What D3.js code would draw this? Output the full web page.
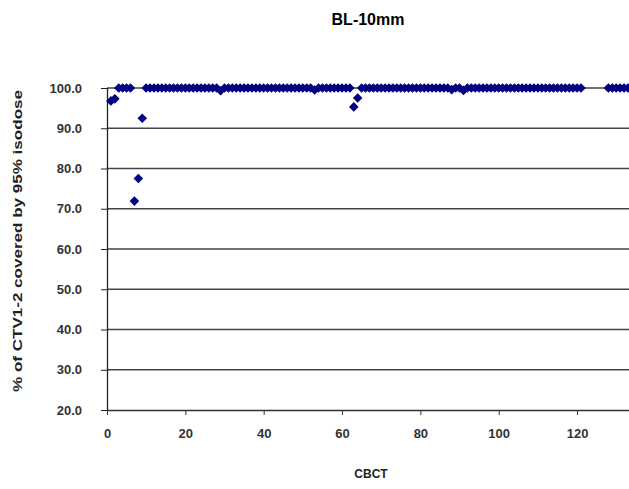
<!DOCTYPE html>
<html>
<head>
<meta charset="utf-8">
<script src="https://cdn.jsdelivr.net/npm/d3@7"></script>
<style>
  body { margin: 0; background: #fff; }
  svg { display: block; font-family: "Liberation Sans", Arial, sans-serif; }
</style>
</head>
<body>
<div id="chart"></div>
<script>
// % of CTV1-2 covered by 95% isodose, one value per CBCT (index + 1); null = no scan
const coverage = [
  96.8, 97.3, 100, 100, 100, 100, 71.9, 77.5, 92.5, 100,
  100, 100, 100, 100, 100, 100, 100, 100, 100, 100,
  100, 100, 100, 100, 100, 100, 100, 100, 99.3, 100,
  100, 100, 100, 100, 100, 100, 100, 100, 100, 100,
  100, 100, 100, 100, 100, 100, 100, 100, 100, 100,
  100, 100, 99.5, 100, 100, 100, 100, 100, 100, 100,
  100, 100, 95.3, 97.5, 100, 100, 100, 100, 100, 100,
  100, 100, 100, 100, 100, 100, 100, 100, 100, 100,
  100, 100, 100, 100, 100, 100, 100, 99.6, 100, 100,
  99.4, 100, 100, 100, 100, 100, 100, 100, 100, 100,
  100, 100, 100, 100, 100, 100, 100, 100, 100, 100,
  100, 100, 100, 100, 100, 100, 100, 100, 100, 100,
  100, null, null, null, null, null, null, 100, 100, 100,
  100, 100, 100
];
const xTicks = [0, 20, 40, 60, 80, 100, 120];
const yTicks = [20, 30, 40, 50, 60, 70, 80, 90, 100];

const width = 629, height = 489;
const margin = { top: 88, left: 107, bottom: 79 };

const points = coverage
  .map((v, i) => ({ cbct: i + 1, value: v }))
  .filter(d => d.value !== null);

const svg = d3.select("#chart").append("svg")
  .attr("width", width)
  .attr("height", height);

// x axis runs past the right edge (chart is cropped there)
const x = d3.scaleLinear()
  .domain([0, 140])
  .range([margin.left, margin.left + 140 * 3.917]);

const y = d3.scaleLinear()
  .domain([20, 100])
  .range([height - margin.bottom, margin.top]);

// gridlines
svg.append("g")
  .selectAll("line")
  .data(yTicks.filter(t => t > 20))
  .enter().append("line")
  .attr("x1", margin.left)
  .attr("x2", width)
  .attr("y1", d => y(d))
  .attr("y2", d => y(d))
  .attr("stroke", "#444")
  .attr("stroke-width", 1.4);

// y axis
const yAxis = svg.append("g")
  .attr("transform", `translate(${margin.left},0)`)
  .call(d3.axisLeft(y).tickValues(yTicks).tickFormat(d3.format(".1f")).tickSize(6).tickPadding(19).tickSizeOuter(0));
yAxis.select(".domain").attr("stroke", "#222").attr("stroke-width", 1.3);
yAxis.selectAll(".tick line").attr("stroke", "#222").attr("x2", -6).attr("x1", 1);
yAxis.selectAll("text")
  .attr("fill", "#333")
  .style("font-size", "13px")
  .style("font-weight", "bold");

// x axis
const xAxis = svg.append("g")
  .attr("transform", `translate(0,${y(20)})`)
  .call(d3.axisBottom(x).tickValues(xTicks).tickSize(5).tickPadding(14).tickSizeOuter(0));
xAxis.select(".domain").attr("stroke", "#333").attr("stroke-width", 1.6);
xAxis.selectAll(".tick line").attr("stroke", "#333");
xAxis.selectAll("text")
  .attr("fill", "#333")
  .style("font-size", "13px")
  .style("font-weight", "bold");

// diamonds
const diamond = d3.symbol().type(d3.symbolSquare).size(46);
svg.append("g")
  .selectAll("path")
  .data(points)
  .enter().append("path")
  .attr("d", diamond)
  .attr("transform", d => `translate(${x(d.cbct)},${y(d.value)}) rotate(45)`)
  .attr("fill", "#000080");

// titles
svg.append("text")
  .attr("x", 368)
  .attr("y", 25)
  .attr("text-anchor", "middle")
  .style("font-size", "16px")
  .style("font-weight", "bold")
  .text("BL-10mm");

svg.append("text")
  .attr("transform", `translate(22,${(y(100) + y(20)) / 2 - 8}) rotate(-90)`)
  .attr("text-anchor", "middle")
  .attr("textLength", 302)
  .attr("lengthAdjust", "spacingAndGlyphs")
  .attr("fill", "#222")
  .style("font-size", "12px")
  .style("font-weight", "bold")
  .text("% of CTV1-2 covered by 95% isodose");

svg.append("text")
  .attr("x", 371)
  .attr("y", 478)
  .attr("text-anchor", "middle")
  .attr("fill", "#222")
  .style("font-size", "12px")
  .style("font-weight", "bold")
  .text("CBCT");
</script>
</body>
</html>
